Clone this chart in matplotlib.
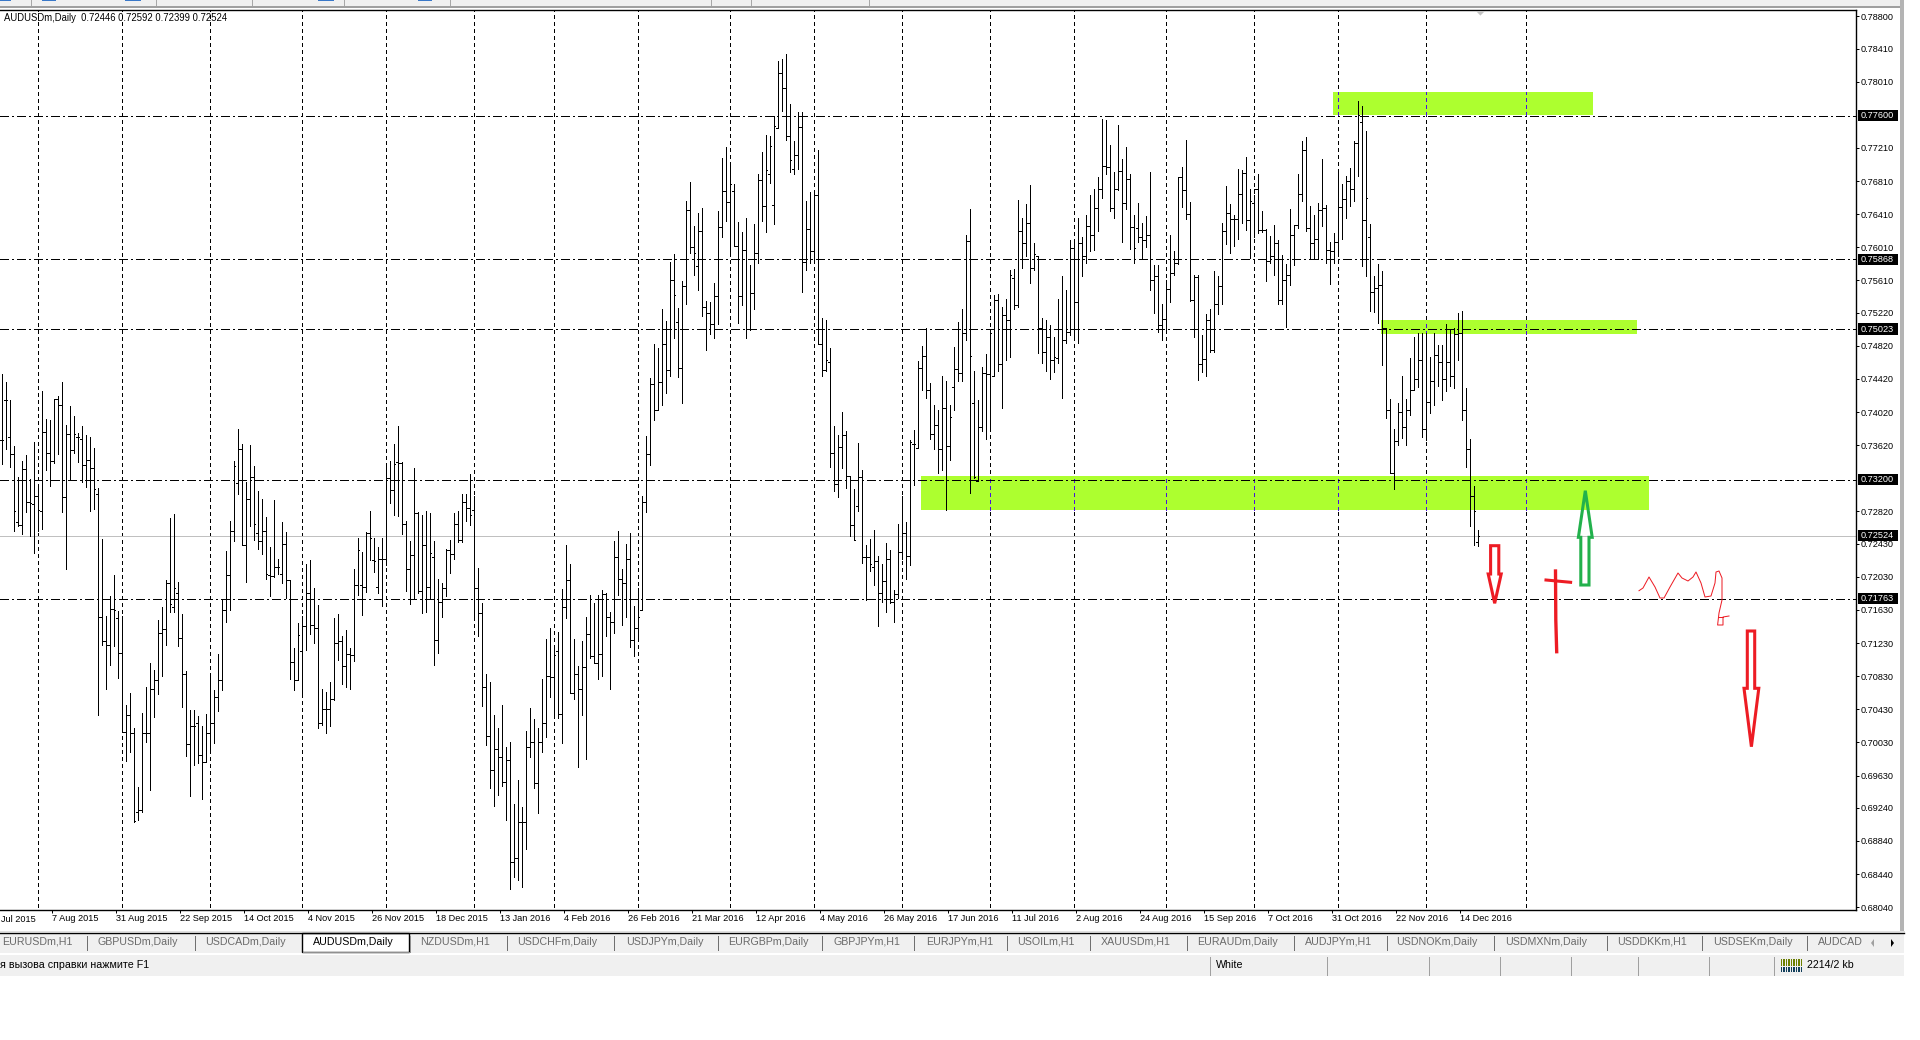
import numpy as np
import matplotlib
matplotlib.use("Agg")
import matplotlib.pyplot as plt
from matplotlib.patches import Rectangle, Polygon

plt.rcParams["font.family"] = ["Liberation Sans", "DejaVu Sans"]

# daily bars, in 1/10000 of a price unit
highs = [
    7448, 7438, 7417, 7361, 7323, 7343, 7350, 7321, 7366, 7315,
    7427, 7394, 7392, 7418, 7421, 7438, 7386, 7409, 7397, 7377,
    7385, 7374, 7372, 7359, 7310, 7249, 7156, 7180, 7205, 7162,
    7156, 7048, 7063, 7020, 6949, 7038, 7070, 7099, 7091, 7151,
    7166, 7199, 7274, 7279, 7197, 7158, 7089, 7042, 7042, 7035,
    7023, 7037, 7084, 7066, 7110, 7175, 7234, 7270, 7343, 7382,
    7363, 7317, 7362, 7337, 7307, 7297, 7275, 7239, 7296, 7225,
    7269, 7257, 7199, 7117, 7147, 7156, 7219, 7223, 7189, 7169,
    7068, 7064, 7076, 7153, 7158, 7132, 7139, 7117, 7213, 7250,
    7233, 7257, 7282, 7250, 7239, 7250, 7337, 7343, 7363, 7385,
    7342, 7270, 7246, 7335, 7281, 7278, 7283, 7280, 7246, 7200,
    7195, 7237, 7248, 7280, 7282, 7303, 7303, 7327, 7301, 7214,
    7171, 7086, 7076, 7036, 7020, 7048, 6997, 7003, 6929, 6958,
    6925, 7017, 7045, 7031, 7021, 7080, 7128, 7141, 7121, 7136,
    7188, 7242, 7219, 7128, 7095, 7125, 7154, 7181, 7172, 7181,
    7187, 7183, 7161, 7246, 7258, 7212, 7243, 7256, 7168, 7190,
    7301, 7373, 7443, 7484, 7479, 7527, 7512, 7583, 7593, 7528,
    7560, 7657, 7680, 7627, 7642, 7648, 7536, 7535, 7558, 7645,
    7709, 7722, 7700, 7678, 7632, 7619, 7637, 7580, 7629, 7690,
    7716, 7737, 7735, 7759, 7826, 7828, 7834, 7774, 7729, 7764,
    7764, 7657, 7668, 7670, 7719, 7516, 7513, 7479, 7385, 7374,
    7402, 7379, 7325, 7309, 7365, 7332, 7241, 7249, 7260, 7228,
    7219, 7244, 7235, 7187, 7267, 7301, 7269, 7368, 7380, 7464,
    7482, 7503, 7437, 7411, 7405, 7446, 7440, 7411, 7481, 7511,
    7526, 7616, 7647, 7452, 7416, 7456, 7472, 7501, 7544, 7545,
    7529, 7539, 7574, 7575, 7658, 7637, 7653, 7676, 7606, 7590,
    7516, 7513, 7507, 7493, 7539, 7566, 7549, 7610, 7610, 7637,
    7614, 7640, 7664, 7671, 7686, 7756, 7755, 7725, 7692, 7749,
    7708, 7722, 7690, 7640, 7654, 7630, 7639, 7692, 7580, 7580,
    7533, 7562, 7616, 7596, 7686, 7698, 7731, 7656, 7567, 7567,
    7495, 7521, 7527, 7572, 7566, 7630, 7675, 7653, 7640, 7696,
    7694, 7710, 7671, 7664, 7690, 7645, 7623, 7615, 7628, 7610,
    7592, 7581, 7647, 7628, 7690, 7729, 7734, 7651, 7640, 7654,
    7708, 7652, 7607, 7618, 7692, 7678, 7687, 7697, 7729, 7778,
    7772, 7742, 7629, 7566, 7581, 7572, 7503, 7418, 7382, 7413,
    7445, 7418, 7467, 7493, 7497, 7497, 7497, 7469, 7497, 7483,
    7483, 7508, 7501, 7503, 7522, 7524, 7431, 7369, 7313, 7259,
]
lows = [
    7339, 7358, 7336, 7258, 7264, 7255, 7281, 7252, 7232, 7258,
    7261, 7332, 7313, 7340, 7351, 7281, 7212, 7321, 7353, 7342,
    7318, 7311, 7283, 7285, 7036, 7121, 7068, 7097, 7119, 7081,
    7016, 6981, 6991, 6907, 6909, 6919, 7004, 6945, 7034, 7062,
    7083, 7121, 7161, 7161, 7119, 7046, 6987, 6938, 6976, 6978,
    6935, 6979, 6993, 7002, 7041, 7066, 7148, 7163, 7246, 7303,
    7241, 7197, 7264, 7248, 7237, 7231, 7201, 7180, 7203, 7206,
    7195, 7177, 7080, 7066, 7078, 7058, 7115, 7134, 7123, 7021,
    7024, 7015, 7023, 7054, 7103, 7074, 7070, 7067, 7101, 7181,
    7157, 7185, 7223, 7209, 7183, 7168, 7217, 7292, 7278, 7276,
    7255, 7186, 7170, 7177, 7184, 7159, 7160, 7176, 7097, 7111,
    7155, 7180, 7208, 7225, 7245, 7245, 7270, 7266, 7153, 7131,
    7047, 7000, 6948, 6926, 6939, 6950, 6909, 6826, 6841, 6837,
    6828, 6874, 6986, 6948, 6918, 6991, 7010, 7058, 7036, 7033,
    7002, 7153, 7063, 7056, 6973, 7036, 6983, 7105, 7100, 7080,
    7083, 7132, 7068, 7135, 7181, 7145, 7155, 7118, 7108, 7127,
    7163, 7281, 7338, 7392, 7405, 7411, 7425, 7446, 7491, 7444,
    7413, 7532, 7594, 7568, 7549, 7518, 7477, 7496, 7492, 7508,
    7614, 7633, 7595, 7603, 7509, 7531, 7491, 7501, 7527, 7582,
    7633, 7619, 7679, 7629, 7745, 7766, 7731, 7692, 7690, 7696,
    7547, 7573, 7582, 7587, 7484, 7446, 7452, 7336, 7307, 7299,
    7335, 7310, 7252, 7247, 7282, 7220, 7175, 7210, 7193, 7144,
    7173, 7161, 7171, 7148, 7177, 7225, 7200, 7217, 7314, 7359,
    7429, 7419, 7369, 7357, 7329, 7332, 7284, 7344, 7405, 7440,
    7440, 7489, 7304, 7322, 7319, 7379, 7370, 7384, 7445, 7452,
    7407, 7465, 7469, 7527, 7529, 7576, 7590, 7558, 7574, 7473,
    7461, 7452, 7442, 7450, 7461, 7419, 7486, 7495, 7493, 7486,
    7566, 7582, 7596, 7598, 7621, 7661, 7690, 7645, 7636, 7670,
    7608, 7647, 7599, 7582, 7607, 7587, 7601, 7550, 7522, 7499,
    7489, 7502, 7535, 7568, 7581, 7650, 7635, 7536, 7493, 7441,
    7450, 7445, 7474, 7475, 7521, 7533, 7605, 7594, 7602, 7611,
    7630, 7622, 7588, 7614, 7618, 7619, 7560, 7582, 7568, 7532,
    7533, 7505, 7555, 7580, 7624, 7657, 7621, 7587, 7587, 7587,
    7627, 7582, 7557, 7582, 7594, 7611, 7636, 7651, 7657, 7687,
    7579, 7566, 7524, 7523, 7510, 7459, 7395, 7329, 7309, 7362,
    7371, 7362, 7398, 7429, 7432, 7372, 7368, 7401, 7411, 7433,
    7416, 7428, 7434, 7431, 7465, 7393, 7336, 7265, 7241, 7240,
]
opens = [
    7368, 7417, 7372, 7351, 7269, 7266, 7333, 7293, 7291, 7301,
    7283, 7378, 7353, 7343, 7418, 7411, 7300, 7375, 7356, 7372,
    7369, 7338, 7344, 7334, 7303, 7154, 7126, 7121, 7164, 7153,
    7111, 7016, 7036, 7015, 6919, 6921, 7015, 7014, 7068, 7079,
    7135, 7140, 7195, 7167, 7183, 7129, 7086, 7001, 7023, 7026,
    6988, 6980, 7014, 7026, 7058, 7079, 7163, 7205, 7258, 7316,
    7358, 7241, 7297, 7324, 7256, 7246, 7258, 7205, 7204, 7215,
    7207, 7243, 7199, 7100, 7079, 7113, 7144, 7184, 7145, 7141,
    7026, 7043, 7043, 7056, 7123, 7126, 7095, 7110, 7109, 7193,
    7193, 7191, 7256, 7223, 7191, 7224, 7225, 7322, 7308, 7342,
    7340, 7267, 7213, 7229, 7280, 7186, 7241, 7191, 7227, 7127,
    7173, 7189, 7235, 7231, 7267, 7248, 7294, 7286, 7284, 7189,
    7159, 7070, 7011, 6970, 6995, 6985, 6955, 6982, 6859, 6864,
    6907, 6907, 6997, 7003, 6954, 7004, 7026, 7083, 7082, 7113,
    7037, 7167, 7199, 7063, 7086, 7068, 7094, 7134, 7107, 7099,
    7110, 7182, 7155, 7149, 7227, 7201, 7195, 7225, 7127, 7141,
    7163, 7293, 7351, 7436, 7405, 7438, 7484, 7453, 7561, 7511,
    7455, 7554, 7646, 7601, 7578, 7621, 7529, 7522, 7508, 7542,
    7626, 7669, 7656, 7669, 7603, 7542, 7598, 7502, 7546, 7594,
    7682, 7651, 7689, 7652, 7745, 7812, 7794, 7736, 7696, 7713,
    7746, 7583, 7623, 7596, 7664, 7484, 7453, 7462, 7353, 7315,
    7360, 7374, 7325, 7266, 7288, 7324, 7227, 7227, 7215, 7222,
    7183, 7198, 7225, 7173, 7182, 7233, 7256, 7228, 7364, 7359,
    7455, 7470, 7429, 7375, 7386, 7357, 7407, 7361, 7432, 7454,
    7449, 7498, 7609, 7413, 7319, 7384, 7449, 7448, 7446, 7537,
    7460, 7519, 7513, 7564, 7531, 7621, 7606, 7630, 7576, 7590,
    7503, 7475, 7493, 7465, 7467, 7502, 7489, 7499, 7600, 7535,
    7606, 7590, 7627, 7616, 7649, 7671, 7699, 7698, 7649, 7671,
    7693, 7654, 7684, 7625, 7624, 7614, 7610, 7616, 7562, 7566,
    7507, 7515, 7551, 7570, 7582, 7686, 7670, 7641, 7537, 7565,
    7460, 7466, 7513, 7477, 7533, 7554, 7621, 7642, 7635, 7635,
    7665, 7691, 7634, 7654, 7671, 7622, 7622, 7584, 7590, 7606,
    7537, 7561, 7568, 7616, 7628, 7665, 7719, 7624, 7606, 7611,
    7646, 7649, 7598, 7597, 7607, 7650, 7659, 7681, 7672, 7727,
    7752, 7634, 7613, 7547, 7552, 7556, 7503, 7405, 7329, 7367,
    7402, 7384, 7405, 7429, 7442, 7465, 7382, 7414, 7439, 7471,
    7463, 7442, 7463, 7445, 7496, 7498, 7405, 7358, 7301, 7245,
]
closes = [
    7368, 7417, 7351, 7282, 7266, 7333, 7293, 7292, 7301, 7284,
    7378, 7353, 7343, 7418, 7411, 7300, 7375, 7356, 7376, 7372,
    7338, 7344, 7334, 7309, 7154, 7126, 7121, 7164, 7163, 7111,
    7016, 7036, 7015, 6908, 6921, 7015, 7014, 7068, 7079, 7135,
    7140, 7195, 7170, 7190, 7129, 7086, 7001, 7023, 7023, 6988,
    6980, 7014, 7026, 7058, 7079, 7163, 7205, 7258, 7337, 7358,
    7241, 7297, 7324, 7267, 7246, 7258, 7206, 7204, 7215, 7215,
    7243, 7199, 7100, 7079, 7133, 7144, 7184, 7145, 7141, 7026,
    7043, 7043, 7056, 7123, 7126, 7095, 7110, 7109, 7193, 7235,
    7191, 7256, 7250, 7222, 7224, 7225, 7322, 7308, 7339, 7340,
    7267, 7213, 7229, 7280, 7186, 7241, 7191, 7232, 7127, 7173,
    7189, 7235, 7231, 7267, 7248, 7294, 7286, 7278, 7189, 7159,
    7070, 7011, 6970, 6995, 6985, 6955, 6982, 6859, 6864, 6907,
    6907, 6997, 7003, 6954, 7004, 7026, 7083, 7082, 7109, 7037,
    7167, 7199, 7063, 7086, 7068, 7094, 7134, 7107, 7099, 7110,
    7182, 7155, 7149, 7227, 7201, 7195, 7225, 7127, 7141, 7155,
    7293, 7351, 7436, 7405, 7438, 7484, 7453, 7561, 7544, 7455,
    7554, 7646, 7601, 7594, 7621, 7529, 7522, 7508, 7542, 7626,
    7669, 7656, 7678, 7603, 7542, 7598, 7502, 7546, 7594, 7682,
    7651, 7694, 7723, 7748, 7812, 7794, 7736, 7707, 7713, 7746,
    7583, 7623, 7596, 7664, 7484, 7453, 7465, 7353, 7315, 7360,
    7374, 7325, 7266, 7248, 7324, 7227, 7227, 7219, 7222, 7183,
    7198, 7225, 7173, 7182, 7233, 7256, 7228, 7366, 7363, 7455,
    7470, 7429, 7375, 7386, 7357, 7407, 7361, 7396, 7454, 7449,
    7498, 7609, 7470, 7324, 7384, 7449, 7448, 7497, 7537, 7460,
    7519, 7513, 7568, 7531, 7621, 7606, 7630, 7576, 7593, 7503,
    7475, 7493, 7465, 7468, 7502, 7489, 7499, 7600, 7535, 7606,
    7590, 7627, 7616, 7649, 7671, 7699, 7698, 7649, 7671, 7693,
    7654, 7684, 7625, 7600, 7614, 7610, 7616, 7562, 7566, 7507,
    7515, 7551, 7570, 7582, 7686, 7670, 7641, 7537, 7565, 7460,
    7466, 7513, 7477, 7533, 7554, 7621, 7642, 7635, 7635, 7665,
    7691, 7634, 7657, 7671, 7622, 7622, 7584, 7590, 7606, 7537,
    7561, 7568, 7616, 7628, 7665, 7719, 7624, 7606, 7611, 7646,
    7649, 7598, 7597, 7607, 7650, 7659, 7681, 7672, 7727, 7761,
    7634, 7660, 7547, 7552, 7556, 7503, 7405, 7329, 7367, 7402,
    7384, 7405, 7429, 7442, 7465, 7382, 7414, 7439, 7471, 7463,
    7442, 7463, 7445, 7496, 7498, 7405, 7358, 7301, 7282, 7252,
]

grid_bars = [9, 30, 52, 75, 96, 118, 138, 159, 182, 203, 225, 247, 268, 291, 313, 334, 356, 381]
date_ticks = [12.7 + 16 * k for k in range(23)]
date_labels = [
    "7 Aug 2015", "31 Aug 2015", "22 Sep 2015", "14 Oct 2015", "4 Nov 2015",
    "26 Nov 2015", "18 Dec 2015", "13 Jan 2016", "4 Feb 2016", "26 Feb 2016", "21 Mar 2016",
    "12 Apr 2016", "4 May 2016", "26 May 2016", "17 Jun 2016", "11 Jul 2016", "2 Aug 2016",
    "24 Aug 2016", "15 Sep 2016", "7 Oct 2016", "31 Oct 2016", "22 Nov 2016", "14 Dec 2016",
]
price_ticks = [
    0.78800, 0.78410, 0.78010, 0.77210, 0.76810, 0.76410, 0.76010, 0.75610, 0.75220,
    0.74820, 0.74420, 0.74020, 0.73620, 0.72820, 0.72430, 0.72030, 0.71630, 0.71230,
    0.70830, 0.70430, 0.70030, 0.69630, 0.69240, 0.68840, 0.68440, 0.68040,
]
level_prices = [0.77600, 0.75868, 0.75023, 0.73200, 0.71763]
last_price = 0.72524

# bar start, bar end, price low, price high
zone_starts = [332.85, 344.85, 229.8]
zone_ends = [397.85, 408.85, 411.85]
zone_lows = [0.77604, 0.74967, 0.72837]
zone_highs = [0.77889, 0.75132, 0.73248]

tab_names = [
    "EURUSDm,H1", "GBPUSDm,Daily", "USDCADm,Daily", "AUDUSDm,Daily", "NZDUSDm,H1", "USDCHFm,Daily",
    "USDJPYm,Daily", "EURGBPm,Daily", "GBPJPYm,H1", "EURJPYm,H1", "USOILm,H1", "XAUUSDm,H1",
    "EURAUDm,Daily", "AUDJPYm,H1", "USDNOKm,Daily", "USDMXNm,Daily", "USDDKKm,H1", "USDSEKm,Daily", "AUDCAD",
]
tab_x = [2, 98, 205, 313, 420, 517.5, 626.5, 728, 834, 926, 1017, 1101, 1197, 1305, 1396, 1505, 1617, 1713, 1818]
tab_seps = [86.5, 194.7, 506.5, 614, 718, 822.4, 914, 1006.5, 1090, 1186.5, 1294, 1386.5, 1494, 1606.5, 1702.4, 1806.5]
status_seps = [1210, 1326.5, 1428.6, 1499.6, 1570.6, 1638.4, 1708.6, 1774.3]

bars = np.arange(len(highs))
high = np.array(highs) / 1e4
low = np.array(lows) / 1e4
open_ = np.array(opens) / 1e4
close = np.array(closes) / 1e4

W, H = 1920, 1040
AX_LEFT, AX_RIGHT, AX_TOP, AX_BOTTOM = 0, 1855.5, 10.3, 910.3
PX = 0.72  # one pixel in points at dpi 100
GRID_DASH = (0, (4, 3))
LEVEL_DASH = (0, (9, 3, 2, 3))
RED, GREEN = "#ed1c24", "#22b14c"

fig = plt.figure(figsize=(W / 100, H / 100), dpi=100, facecolor="white")
ax = fig.add_axes([AX_LEFT / W, 1 - AX_BOTTOM / H, (AX_RIGHT - AX_LEFT) / W, (AX_BOTTOM - AX_TOP) / H])

for b in grid_bars:
    ax.axvline(b, ymin=0.004, color="black", lw=PX, linestyle=GRID_DASH, antialiased=False, zorder=1)

for x0, x1, y0, y1 in zip(zone_starts, zone_ends, zone_lows, zone_highs):
    ax.add_patch(Rectangle((x0, y0), x1 - x0, y1 - y0, fc="#adff2f", ec="none", zorder=2))
    for b in grid_bars:
        if x0 < b < x1:
            ax.vlines(b, y0, y1, color="#4a10e0", lw=PX, linestyle=GRID_DASH, antialiased=False, zorder=2.5)

for p in level_prices:
    ax.axhline(p, color="black", lw=PX, linestyle=LEVEL_DASH, antialiased=False, zorder=3)
ax.axhline(last_price, color="#c0c0c0", lw=PX, antialiased=False, zorder=1.5)

ax.vlines(bars, low, high, color="black", lw=PX, antialiased=False, zorder=4)
ax.hlines(open_, bars - 0.35, bars, color="black", lw=PX, antialiased=False, zorder=4)
ax.hlines(close, bars, bars + 0.35, color="black", lw=PX, antialiased=False, zorder=4)

ax.spines["left"].set_visible(False)
for s in ["top", "right", "bottom"]:
    ax.spines[s].set_linewidth(1.0)

ax.yaxis.tick_right()
ax.set_yticks(price_ticks)
ax.set_yticklabels([f"{p:.5f}" for p in price_ticks])
ax.tick_params(axis="y", length=2.2, width=PX, pad=1.6, labelsize=6.6)
ax.set_xticks(date_ticks)
ax.set_xticklabels(date_labels, ha="left")
ax.tick_params(axis="x", direction="out", length=2.2, width=PX, pad=0.5, labelsize=6.6)

ax.set_xlim(-0.4, 463.475)
ax.set_ylim(0.788 - (AX_BOTTOM - 16.3) / 8280, 0.788 + (16.3 - AX_TOP) / 8280)

# first date, only its month and year are in the window
ax.text(-0.2, -9.4 / (AX_BOTTOM - AX_TOP), "Jul 2015", fontsize=6.6, va="center", ha="left",
        transform=ax.get_xaxis_transform(), clip_on=False)

# black boxes with the level prices on the scale
for p in level_prices + [last_price]:
    tr = ax.get_yaxis_transform()
    ax.add_patch(Rectangle((1.00113, p - 0.00066), 0.02156, 0.00133, fc="black", ec="none",
                           transform=tr, clip_on=False, zorder=6))
    ax.text(1.00285, p, f"{p:.5f}", color="white", fontsize=6.6, va="center", ha="left",
            transform=tr, clip_on=False, zorder=7)

ax.text(4.5 / AX_RIGHT, 1 - 8 / (AX_BOTTOM - AX_TOP), "AUDUSDm,Daily  0.72446 0.72592 0.72399 0.72524",
        transform=ax.transAxes, fontsize=6.85, va="center", ha="left", zorder=8)

# window chrome and the hand drawn marks, in pixels of the screenshot
over = fig.add_axes([0, 0, 1, 1], facecolor="none")
over.set_xlim(0, W)
over.set_ylim(H, 0)
over.axis("off")

chrome = "#f0f0f0"
over.add_patch(Rectangle((0, 0), 1904, 6.3, fc=chrome, ec="none"))
over.add_patch(Rectangle((0, 6.3), 1900, 1.4, fc="#a0a0a0", ec="none"))
for x in [31.4, 156.3, 252.2, 344, 450, 711.4, 751.4, 868.6]:
    over.plot([x, x], [0, 4.5], color="#a8a8a8", lw=PX)
for x0, x1 in [(0, 11), (42, 56), (125, 141), (318, 334), (418, 432)]:
    over.add_patch(Rectangle((x0, 0), x1 - x0, 1.4, fc="#3a78c8", ec="none"))
over.add_patch(Polygon([(1476, 11), (1485, 11), (1480.4, 15.6)], fc="#c4c4c4", ec="none"))
over.add_patch(Rectangle((1899.6, 0), 4.4, 932, fc="#b4b4b4", ec="none"))

# tab strip
over.plot([0, 1904], [931, 931], color="#e0e0e0", lw=PX)
over.add_patch(Rectangle((0, 933), 1904, 20, fc=chrome, ec="none"))
over.plot([0, 1904], [933, 933], color="black", lw=1.0)
over.add_patch(Rectangle((302, 933), 107, 18.5, fc="white", ec="black", lw=1.0))
over.plot([409.8, 409.8], [936, 952.3], color="#909090", lw=PX)
over.plot([303, 410], [952.3, 952.3], color="#909090", lw=PX)
for x in tab_seps:
    over.plot([x, x], [936, 950], color="#707070", lw=PX)
for name, x in zip(tab_names, tab_x):
    color = "black" if name == "AUDUSDm,Daily" else "#6a6a6a"
    over.text(x, 942, name, fontsize=7.7, color=color, ha="left", va="center")
over.add_patch(Polygon([(1874, 939), (1874, 947), (1871, 943)], fc="#a0a0a0", ec="none"))
over.add_patch(Polygon([(1891, 939), (1891, 947), (1894, 943)], fc="black", ec="none"))

# status bar
over.add_patch(Rectangle((0, 954.8), 1904, 21, fc=chrome, ec="none"))
over.text(0, 965, "я вызова справки нажмите F1", fontsize=7.7, color="black", ha="left", va="center")
over.text(1216, 965, "White", fontsize=7.7, color="black", ha="left", va="center")
over.text(1807, 965, "2214/2 kb", fontsize=7.7, color="black", ha="left", va="center")
for x in status_seps:
    over.plot([x, x], [957, 975], color="#a0a0a0", lw=PX)
for x in [1780.5, 1783, 1785.5, 1788, 1790.5, 1793, 1795.5, 1798, 1800.5]:
    over.add_patch(Rectangle((x, 959), 1.6, 7, fc="#6b7f00", ec="none"))
    over.add_patch(Rectangle((x, 966.5), 1.6, 5.5, fc="#123f5c", ec="none"))

# red and green arrows
arrow_down_1 = [(1490.6, 545.7), (1498.8, 545.7), (1498.8, 574), (1501.2, 574), (1494.7, 603.3), (1488.2, 574), (1490.6, 574)]
arrow_up = [(1580.8, 585), (1589, 585), (1589, 537.3), (1592.2, 537.3), (1585.3, 490.7), (1578.4, 537.3), (1580.8, 537.3)]
arrow_down_2 = [(1747.3, 631), (1754.7, 631), (1754.7, 688.3), (1758.8, 688.3), (1751.4, 746.7), (1744, 688.3), (1747.3, 688.3)]
for pts, col in [(arrow_down_1, RED), (arrow_up, GREEN), (arrow_down_2, RED)]:
    over.add_patch(Polygon(pts, closed=True, fc="none", ec=col, lw=2.2, joinstyle="miter"))

over.plot([1555.5, 1555.8, 1556.7], [571, 620, 651.7], color=RED, lw=2.4)
over.plot([1546, 1570.6], [580, 582.3], color=RED, lw=2.2)

squiggle = [
    (1639, 590.7), (1643, 588), (1649, 577), (1655, 587), (1660, 598), (1664, 598), (1670, 587),
    (1678, 573), (1682, 578), (1688, 581), (1693, 577), (1696, 572), (1701, 583), (1705, 597),
    (1711, 596), (1715, 583), (1716, 572), (1719, 571), (1722, 578), (1722, 600), (1719, 613),
    (1717.6, 625), (1723, 625), (1723, 617), (1729, 616),
]
over.plot(*zip(*squiggle), color=RED, lw=PX)
over.plot([1717.6, 1723], [617, 617], color=RED, lw=PX)

fig.savefig("out.png", dpi=100, facecolor="white")
